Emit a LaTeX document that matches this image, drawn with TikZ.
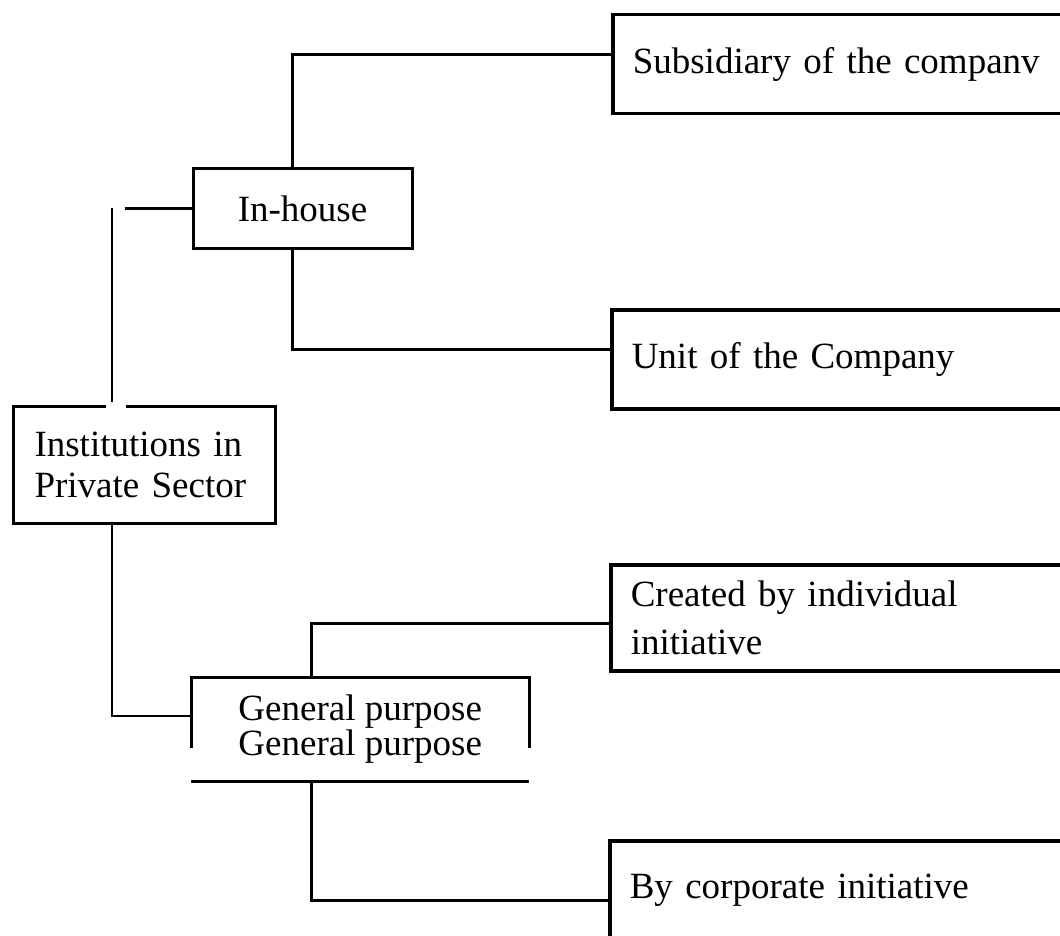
\documentclass[tikz,border=0pt]{standalone}
\usepackage{fontspec}
\setmainfont{Liberation Serif}
\usetikzlibrary{positioning,calc}

\begin{document}
\begin{tikzpicture}[x=1pt,y=-1pt,
    box/.style={draw,line width=3pt,inner sep=0pt,font=\fontsize{37}{44}\selectfont},
    rbox/.style={box,line width=3.5pt,anchor=north west,minimum width=600pt,minimum height=99pt,text width=560pt,align=left},
    link/.style={line width=2.6pt}]
  \useasboundingbox (0,0) rectangle (1060,936);

  % boxes on the right
  \node[rbox] (sub) at (611,13) {Subsidiary of the companv};
  \node[rbox] (unit) at (610,308) {Unit of the Company};
  \node[rbox,minimum height=106pt,font=\fontsize{37}{48}\selectfont] (created) at (609,563) {Created by individual\\initiative};
  \node[rbox] (corp) at (608,839) {By corporate initiative};

  % boxes on the left
  \node[box,minimum width=219pt,minimum height=79pt] (inhouse) at (302.5,208.5) {In-house};
  \node[box,anchor=north west,minimum width=262pt,minimum height=117pt,text width=220pt,align=left,
        font=\fontsize{37}{41}\selectfont] (inst) at (12,405) {Institutions in\\Private Sector};
  \node[anchor=north west,inner sep=0pt,minimum width=338pt,minimum height=104pt,align=center,
        font=\fontsize{37}{24}\selectfont] (gen) at (191,677) {General purpose\\General purpose};
  \draw[line width=3pt] ($(gen.north west)+(0,71)$) -- (gen.north west) -- (gen.north east) -- ++(0,71);
  \draw[line width=3pt] (gen.south west) -- (gen.south east);

  % gap in the top of inst
  \coordinate (up) at ($(inst.north west)+(100,0)$);
  \fill[white] ($(up)+(-6,-4)$) rectangle ($(up)+(14,4)$);

  % connectors
  \draw[link] (up) ++(0,-3) -- (up |- inhouse.west);
  \draw[link] ($(inhouse.west)+(-67,0)$) -- (inhouse.west);
  \draw[link] ($(inhouse.north)+(-10,0)$) |- ($(sub.west)+(0,-10)$);
  \draw[link] ($(inhouse.south)+(-10,0)$) |- ($(unit.west)+(0,-10)$);
  \draw[link] ($(inst.south west)+(100,0)$) |- ($(gen.north west)+(0,39)$);
  \draw[link] ($(gen.north)+(-49,0)$) |- ($(created.west)+(0,6)$);
  \draw[link] ($(gen.south)+(-49,0)$) |- ($(corp.west)+(0,10)$);
\end{tikzpicture}
\end{document}
